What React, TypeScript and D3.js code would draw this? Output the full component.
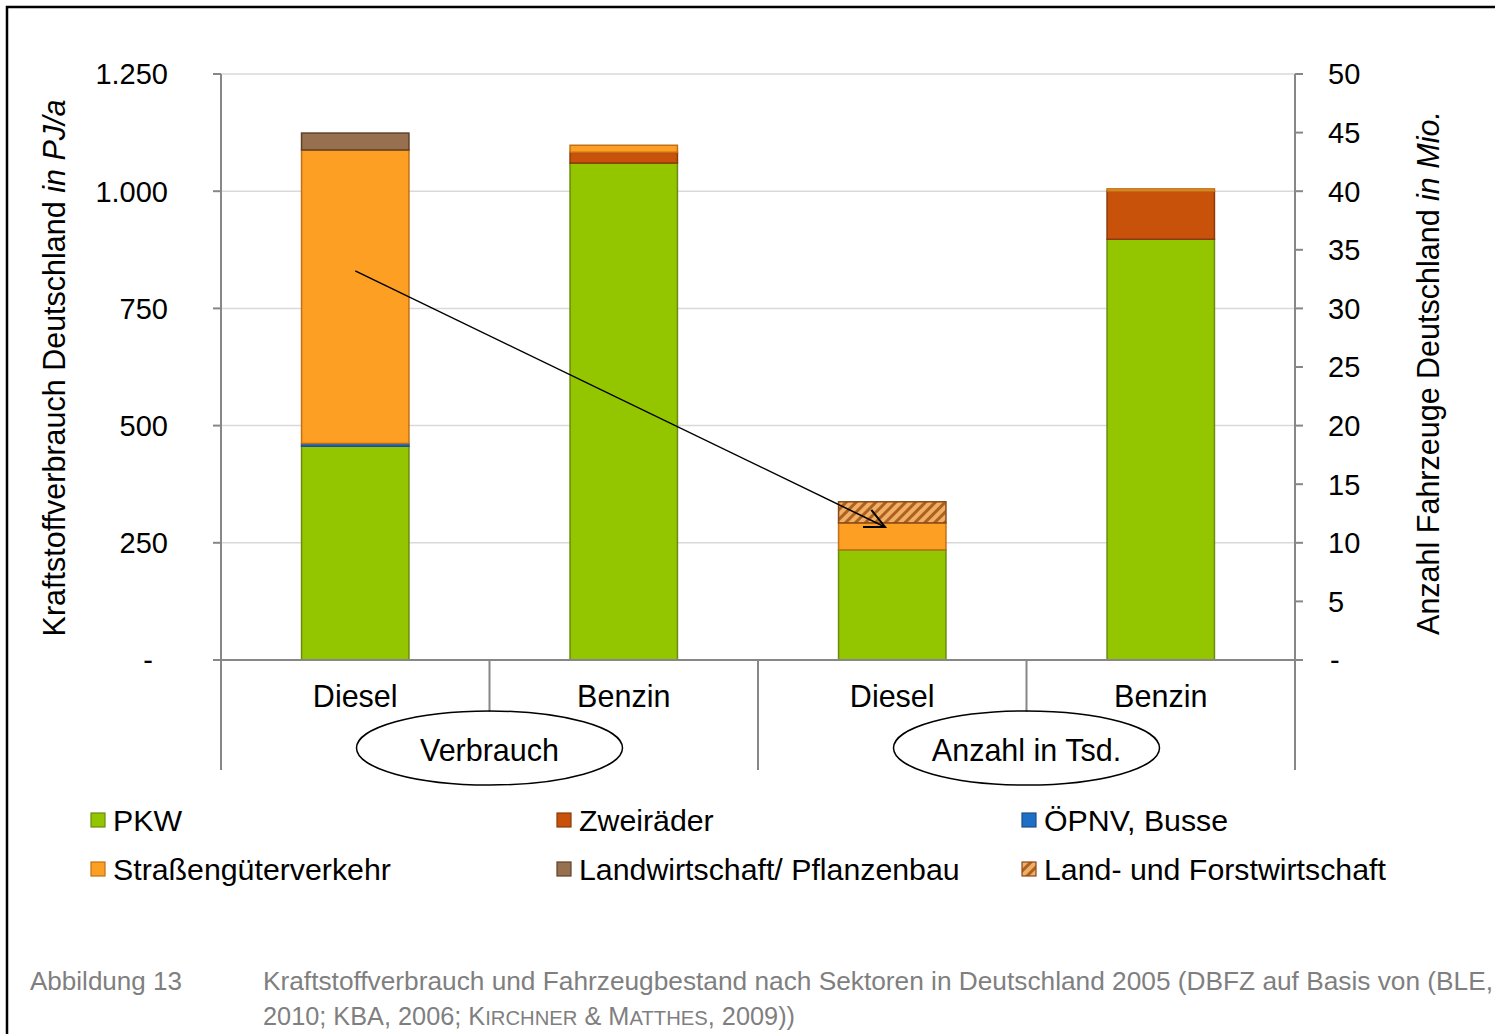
import { useEffect, useRef } from 'react'
import * as d3 from 'd3'

const W = 1495
const H = 1034

const categories = ['Diesel', 'Benzin', 'Diesel', 'Benzin']
const groupLabels = ['Verbrauch', 'Anzahl in Tsd.']
// which axis each bar uses: 0 = left (PJ/a), 1 = right (Mio.)
const barAxis = [0, 0, 1, 1]

const seriesKeys = ['PKW', 'ÖPNV, Busse', 'Zweiräder', 'Straßengüterverkehr', 'Landwirtschaft/ Pflanzenbau', 'Land- und Forstwirtschaft']
const pkw = [456, 1060, 9.4, 35.9]
const oepnv = [6, 0, 0, 0]
const zweiraeder = [0, 23, 0, 4.1]
const strassen = [626, 15, 2.3, 0.2]
const landwirtschaft = [36, 0, 0, 0]
const landForst = [0, 0, 1.8, 0]

const leftTicks = [0, 250, 500, 750, 1000, 1250]
const leftTickLabels = ['-', '250', '500', '750', '1.000', '1.250']
const rightTicks = [0, 5, 10, 15, 20, 25, 30, 35, 40, 45, 50]
const rightTickLabels = ['-', '5', '10', '15', '20', '25', '30', '35', '40', '45', '50']

const legendOrder = ['PKW', 'Zweiräder', 'ÖPNV, Busse', 'Straßengüterverkehr', 'Landwirtschaft/ Pflanzenbau', 'Land- und Forstwirtschaft']

const colors: Record<string, string> = {
  'PKW': '#94c600',
  'ÖPNV, Busse': '#1f6fc6',
  'Zweiräder': '#c8520a',
  'Straßengüterverkehr': '#fd9f22',
  'Landwirtschaft/ Pflanzenbau': '#977050',
  'Land- und Forstwirtschaft': 'url(#hatch)',
}
const strokes: Record<string, string> = {
  'PKW': '#6a8a10',
  'ÖPNV, Busse': '#1f4f8a',
  'Zweiräder': '#8a3a08',
  'Straßengüterverkehr': '#c07018',
  'Landwirtschaft/ Pflanzenbau': '#5e4128',
  'Land- und Forstwirtschaft': '#8a4a18',
}

const FONT = "'Liberation Sans', Arial, sans-serif"

export default function App() {
  const svgRef = useRef<SVGSVGElement>(null)

  useEffect(() => {
    if (!svgRef.current) return
    const svg = d3.select(svgRef.current)
    svg.selectAll('*').remove()

    const left = 221
    const right = 1295
    const top = 74
    const bottom = 660

    const x = d3.scaleBand<number>().domain(d3.range(categories.length)).range([left, right]).paddingInner(0.6).paddingOuter(0.3)
    const yL = d3.scaleLinear().domain([0, 1250]).range([bottom, top])
    const yR = d3.scaleLinear().domain([0, 50]).range([bottom, top])
    const yFor = (i: number) => (barAxis[i] === 0 ? yL : yR)

    // hatch pattern
    const defs = svg.append('defs')
    const pat = defs
      .append('pattern')
      .attr('id', 'hatch')
      .attr('patternUnits', 'userSpaceOnUse')
      .attr('width', 7)
      .attr('height', 7)
      .attr('patternTransform', 'rotate(45)')
    pat.append('rect').attr('width', 7).attr('height', 7).attr('fill', '#eeb066')
    pat.append('rect').attr('width', 3).attr('height', 7).attr('fill', '#b0601e')

    // outer frame
    svg
      .append('path')
      .attr('d', `M7,${H} L7,7 L${W},7`)
      .attr('fill', 'none')
      .attr('stroke', '#000')
      .attr('stroke-width', 2.5)

    // gridlines
    svg
      .append('g')
      .selectAll('line')
      .data(leftTicks.slice(1))
      .join('line')
      .attr('x1', left)
      .attr('x2', right)
      .attr('y1', (d) => yL(d))
      .attr('y2', (d) => yL(d))
      .attr('stroke', '#d9d9d9')
      .attr('stroke-width', 1.5)

    // stacked bars
    const table = categories.map((_, i) => ({
      'PKW': pkw[i],
      'ÖPNV, Busse': oepnv[i],
      'Zweiräder': zweiraeder[i],
      'Straßengüterverkehr': strassen[i],
      'Landwirtschaft/ Pflanzenbau': landwirtschaft[i],
      'Land- und Forstwirtschaft': landForst[i],
    }))
    const stacked = d3.stack<any>().keys(seriesKeys)(table)

    stacked.forEach((s) => {
      svg
        .append('g')
        .selectAll('rect')
        .data(s.map((d, i) => ({ d, i })).filter((e) => e.d[1] - e.d[0] > 0))
        .join('rect')
        .attr('x', (e) => x(e.i)!)
        .attr('width', x.bandwidth())
        .attr('y', (e) => yFor(e.i)(e.d[1]))
        .attr('height', (e) => Math.max(yFor(e.i)(e.d[0]) - yFor(e.i)(e.d[1]), 1.5))
        .attr('fill', colors[s.key])
        .attr('stroke', strokes[s.key])
        .attr('stroke-width', 1.5)
    })

    const axisColor = '#878787'
    const axisG = svg.append('g').attr('stroke', axisColor).attr('stroke-width', 2)
    // left axis
    axisG.append('line').attr('x1', left).attr('x2', left).attr('y1', top).attr('y2', 770)
    axisG
      .selectAll('line.lt')
      .data(leftTicks)
      .join('line')
      .attr('class', 'lt')
      .attr('x1', left - 8)
      .attr('x2', left)
      .attr('y1', (d) => yL(d))
      .attr('y2', (d) => yL(d))
    // right axis
    axisG.append('line').attr('x1', right).attr('x2', right).attr('y1', top).attr('y2', 770)
    axisG
      .selectAll('line.rt')
      .data(rightTicks)
      .join('line')
      .attr('class', 'rt')
      .attr('x1', right)
      .attr('x2', right + 8)
      .attr('y1', (d) => yR(d))
      .attr('y2', (d) => yR(d))
    // category baseline
    axisG.append('line').attr('x1', left).attr('x2', right).attr('y1', bottom).attr('y2', bottom)
    // separators
    const step = x.step()
    axisG
      .selectAll('line.sep')
      .data([1, 2, 3])
      .join('line')
      .attr('class', 'sep')
      .attr('x1', (k) => left + k * step)
      .attr('x2', (k) => left + k * step)
      .attr('y1', bottom)
      .attr('y2', (k) => (k === 2 ? 770 : 712))

    // tick labels
    svg
      .append('g')
      .selectAll('text')
      .data(leftTicks)
      .join('text')
      .attr('x', (d) => (d === 0 ? 153 : 168))
      .attr('y', (d) => yL(d))
      .attr('dy', '0.36em')
      .attr('text-anchor', 'end')
      .attr('font-family', FONT)
      .attr('font-size', 29)
      .text((_, i) => leftTickLabels[i])
    svg
      .append('g')
      .selectAll('text')
      .data(rightTicks)
      .join('text')
      .attr('x', (d) => (d === 0 ? 1330 : 1328))
      .attr('y', (d) => yR(d))
      .attr('dy', '0.36em')
      .attr('font-family', FONT)
      .attr('font-size', 29)
      .text((_, i) => rightTickLabels[i])

    // category labels
    svg
      .append('g')
      .selectAll('text')
      .data(categories)
      .join('text')
      .attr('x', (_, i) => x(i)! + x.bandwidth() / 2)
      .attr('y', 707)
      .attr('text-anchor', 'middle')
      .attr('font-family', FONT)
      .attr('font-size', 30.5)
      .text((d) => d)

    // group labels in ellipses
    groupLabels.forEach((g, k) => {
      const cx = left + (k * 2 + 1) * step
      svg
        .append('ellipse')
        .attr('cx', cx)
        .attr('cy', 748)
        .attr('rx', 133)
        .attr('ry', 37)
        .attr('fill', 'none')
        .attr('stroke', '#000')
        .attr('stroke-width', 1.5)
      svg
        .append('text')
        .attr('x', cx)
        .attr('y', 761)
        .attr('text-anchor', 'middle')
        .attr('font-family', FONT)
        .attr('font-size', 30.5)
        .text(g)
    })

    // axis titles
    const lt = svg
      .append('text')
      .attr('transform', 'translate(65,368) rotate(-90)')
      .attr('text-anchor', 'middle')
      .attr('font-family', FONT)
      .attr('font-size', 30.5)
    lt.append('tspan').text('Kraftstoffverbrauch Deutschland ')
    lt.append('tspan').attr('font-style', 'italic').text('in PJ/a')
    const rtT = svg
      .append('text')
      .attr('transform', 'translate(1439,373) rotate(-90)')
      .attr('text-anchor', 'middle')
      .attr('font-family', FONT)
      .attr('font-size', 30.5)
    rtT.append('tspan').text('Anzahl Fahrzeuge Deutschland ')
    rtT.append('tspan').attr('font-style', 'italic').text('in Mio.')

    // arrow
    const ax1 = x(0)! + x.bandwidth() / 2
    const ay1 = yL(830)
    const ax2 = 885
    const ay2 = 527
    svg
      .append('line')
      .attr('x1', ax1)
      .attr('y1', ay1)
      .attr('x2', ax2)
      .attr('y2', ay2)
      .attr('stroke', '#000')
      .attr('stroke-width', 1.5)
    const ang = Math.atan2(ay2 - ay1, ax2 - ax1)
    const head = 22
    const spread = 0.45
    svg
      .append('path')
      .attr(
        'd',
        `M${ax2 - head * Math.cos(ang - spread)},${ay2 - head * Math.sin(ang - spread)} L${ax2},${ay2} L${ax2 - head * Math.cos(ang + spread)},${ay2 - head * Math.sin(ang + spread)}`
      )
      .attr('fill', 'none')
      .attr('stroke', '#000')
      .attr('stroke-width', 2)

    // legend
    const legendX = [91, 557, 1022]
    const legendY = [820, 869]
    const lg = svg
      .append('g')
      .selectAll('g')
      .data(legendOrder)
      .join('g')
      .attr('transform', (_, i) => `translate(${legendX[i % 3]},${legendY[Math.floor(i / 3)]})`)
    lg.append('rect')
      .attr('x', 0)
      .attr('y', -7)
      .attr('width', 14)
      .attr('height', 14)
      .attr('fill', (d) => colors[d])
      .attr('stroke', (d) => strokes[d])
      .attr('stroke-width', 1.2)
    lg.append('text')
      .attr('x', 22)
      .attr('dy', '0.36em')
      .attr('font-family', FONT)
      .attr('font-size', 30.3)
      .text((d) => d)

    // caption
    const capFont = "'Liberation Sans Narrow', 'Liberation Sans', Arial, sans-serif"
    svg
      .append('text')
      .attr('x', 30)
      .attr('y', 990)
      .attr('font-family', capFont)
      .attr('font-size', 25)
      .attr('fill', '#7f7f7f')
      .attr('textLength', 152)
      .attr('lengthAdjust', 'spacingAndGlyphs')
      .text('Abbildung 13')
    svg
      .append('text')
      .attr('x', 263)
      .attr('y', 990)
      .attr('font-family', capFont)
      .attr('font-size', 25)
      .attr('fill', '#7f7f7f')
      .attr('textLength', 1230)
      .attr('lengthAdjust', 'spacingAndGlyphs')
      .text('Kraftstoffverbrauch und Fahrzeugbestand nach Sektoren in Deutschland 2005 (DBFZ auf Basis von (BLE,')
    const c2 = svg
      .append('text')
      .attr('x', 263)
      .attr('y', 1025)
      .attr('font-family', capFont)
      .attr('font-size', 25)
      .attr('fill', '#7f7f7f')
      .attr('textLength', 532)
      .attr('lengthAdjust', 'spacingAndGlyphs')
    c2.append('tspan').text('2010; KBA, 2006; K')
    c2.append('tspan').attr('font-size', 20).text('IRCHNER')
    c2.append('tspan').text(' & M')
    c2.append('tspan').attr('font-size', 20).text('ATTHES')
    c2.append('tspan').text(', 2009))')
  }, [])

  return (
    <svg
      ref={svgRef}
      width={W}
      height={H}
      style={{ display: 'block', position: 'absolute', left: 0, top: 0, background: '#fff' }}
    />
  )
}
